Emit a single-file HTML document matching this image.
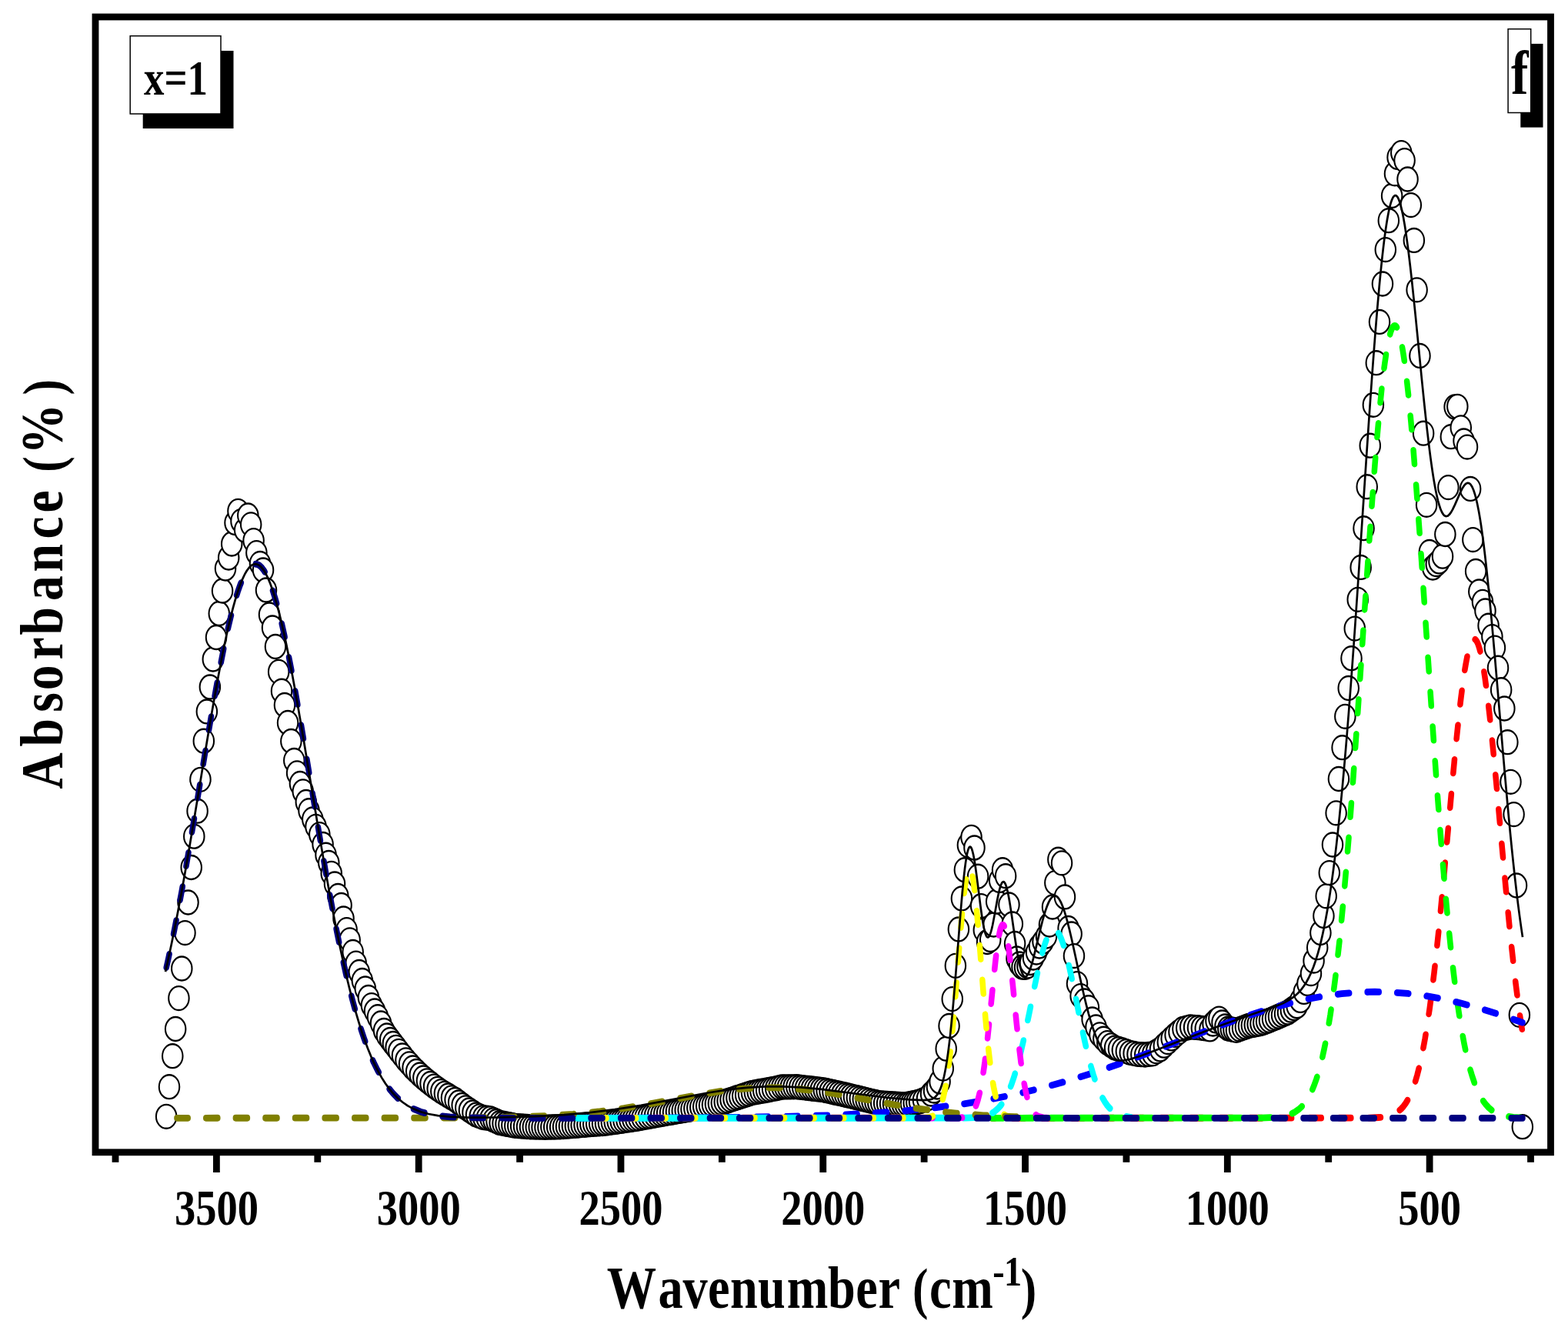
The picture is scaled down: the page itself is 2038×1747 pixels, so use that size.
<!DOCTYPE html>
<html><head><meta charset="utf-8"><style>
html,body{margin:0;padding:0;background:#fff;}
svg{display:block;}
text{font-family:"Liberation Serif","Times New Roman",serif;font-weight:bold;fill:#000;}
</style></head><body>
<svg width="2038" height="1747" viewBox="0 0 2038 1747">
<rect width="2038" height="1747" fill="#fff"/>
<g transform="scale(0.857 1)">
<g fill="#fff" stroke="#000" stroke-width="2.4"><circle cx="252.2" cy="1451.3" r="15.45"/><circle cx="256.7" cy="1412.7" r="15.45"/><circle cx="261.7" cy="1372.7" r="15.45"/><circle cx="266.2" cy="1337.5" r="15.45"/><circle cx="271.2" cy="1297.6" r="15.45"/><circle cx="275.7" cy="1259.0" r="15.45"/><circle cx="280.6" cy="1212.6" r="15.45"/><circle cx="285.3" cy="1173.0" r="15.45"/><circle cx="290.2" cy="1127.5" r="15.45"/><circle cx="294.4" cy="1087.2" r="15.45"/><circle cx="299.4" cy="1054.2" r="15.45"/><circle cx="303.9" cy="1013.3" r="15.45"/><circle cx="309.0" cy="963.2" r="15.45"/><circle cx="313.7" cy="924.9" r="15.45"/><circle cx="318.4" cy="893.0" r="15.45"/><circle cx="323.0" cy="857.0" r="15.45"/><circle cx="327.9" cy="828.5" r="15.45"/><circle cx="332.3" cy="797.5" r="15.45"/><circle cx="337.3" cy="768.0" r="15.45"/><circle cx="341.9" cy="739.0" r="15.45"/><circle cx="346.8" cy="725.0" r="15.45"/><circle cx="351.5" cy="707.0" r="15.45"/><circle cx="356.5" cy="679.5" r="15.45"/><circle cx="361.1" cy="664.3" r="15.45"/><circle cx="365.8" cy="677.4" r="15.45"/><circle cx="371.3" cy="688.9" r="15.45"/><circle cx="376.1" cy="670.0" r="15.45"/><circle cx="380.6" cy="681.8" r="15.45"/><circle cx="384.6" cy="702.6" r="15.45"/><circle cx="389.0" cy="718.6" r="15.45"/><circle cx="394.4" cy="732.4" r="15.45"/><circle cx="399.1" cy="741.0" r="15.45"/><circle cx="403.7" cy="767.0" r="15.45"/><circle cx="408.4" cy="799.0" r="15.45"/><circle cx="413.1" cy="816.0" r="15.45"/><circle cx="417.7" cy="840.5" r="15.45"/><circle cx="422.6" cy="873.3" r="15.45"/><circle cx="427.1" cy="898.2" r="15.45"/><circle cx="431.7" cy="916.5" r="15.45"/><circle cx="436.5" cy="939.5" r="15.45"/><circle cx="441.5" cy="963.5" r="15.45"/><circle cx="446.1" cy="988.4" r="15.45"/><circle cx="450.5" cy="1004.8" r="15.45"/><circle cx="455.0" cy="1018.5" r="15.45"/><circle cx="459.5" cy="1028.8" r="15.45"/><circle cx="464.2" cy="1042.5" r="15.45"/><circle cx="468.5" cy="1053.7" r="15.45"/><circle cx="474.1" cy="1064.9" r="15.45"/><circle cx="479.0" cy="1074.3" r="15.45"/><circle cx="484.6" cy="1084.6" r="15.45"/><circle cx="489.6" cy="1097.5" r="15.45"/><circle cx="494.2" cy="1111.2" r="15.45"/><circle cx="498.6" cy="1121.5" r="15.45"/><circle cx="502.6" cy="1135.3" r="15.45"/><circle cx="507.6" cy="1149.0" r="15.45"/><circle cx="512.6" cy="1164.5" r="15.45"/><circle cx="517.6" cy="1176.5" r="15.45"/><circle cx="521.0" cy="1194.0" r="15.45"/><circle cx="525.8" cy="1208.6" r="15.45"/><circle cx="530.5" cy="1221.8" r="15.45"/><circle cx="535.2" cy="1237.4" r="15.45"/><circle cx="539.9" cy="1252.1" r="15.45"/><circle cx="544.7" cy="1263.5" r="15.45"/><circle cx="549.4" cy="1274.5" r="15.45"/><circle cx="554.0" cy="1285.0" r="15.45"/><circle cx="558.8" cy="1296.5" r="15.45"/><circle cx="563.5" cy="1306.6" r="15.45"/><circle cx="568.3" cy="1314.0" r="15.45"/><circle cx="572.9" cy="1321.7" r="15.45"/><circle cx="577.6" cy="1330.0" r="15.45"/><circle cx="582.3" cy="1339.5" r="15.45"/><circle cx="586.9" cy="1346.0" r="15.45"/><circle cx="591.8" cy="1351.4" r="15.45"/><circle cx="596.1" cy="1356.4" r="15.45"/><circle cx="600.5" cy="1361.3" r="15.45"/><circle cx="604.8" cy="1366.3" r="15.45"/><circle cx="610.2" cy="1372.0" r="15.45"/><circle cx="615.5" cy="1377.8" r="15.45"/><circle cx="620.8" cy="1382.8" r="15.45"/><circle cx="626.1" cy="1387.9" r="15.45"/><circle cx="631.5" cy="1392.5" r="15.45"/><circle cx="636.9" cy="1397.0" r="15.45"/><circle cx="642.2" cy="1400.9" r="15.45"/><circle cx="647.5" cy="1404.8" r="15.45"/><circle cx="652.9" cy="1408.4" r="15.45"/><circle cx="658.2" cy="1412.1" r="15.45"/><circle cx="663.6" cy="1415.3" r="15.45"/><circle cx="669.0" cy="1418.6" r="15.45"/><circle cx="674.3" cy="1421.3" r="15.45"/><circle cx="679.6" cy="1424.0" r="15.45"/><circle cx="684.9" cy="1426.8" r="15.45"/><circle cx="690.3" cy="1429.5" r="15.45"/><circle cx="695.6" cy="1433.0" r="15.45"/><circle cx="700.9" cy="1436.5" r="15.45"/><circle cx="706.3" cy="1439.8" r="15.45"/><circle cx="711.7" cy="1443.0" r="15.45"/><circle cx="717.0" cy="1446.0" r="15.45"/><circle cx="722.3" cy="1449.0" r="15.45"/><circle cx="727.7" cy="1450.8" r="15.45"/><circle cx="733.0" cy="1452.6" r="15.45"/><circle cx="738.4" cy="1453.2" r="15.45"/><circle cx="743.8" cy="1453.8" r="15.45"/><circle cx="748.5" cy="1455.7" r="15.45"/><circle cx="753.2" cy="1457.5" r="15.45"/><circle cx="758.0" cy="1459.4" r="15.45"/><circle cx="762.6" cy="1460.2" r="15.45"/><circle cx="767.2" cy="1461.0" r="15.45"/><circle cx="771.8" cy="1461.7" r="15.45"/><circle cx="776.4" cy="1462.5" r="15.45"/><circle cx="781.0" cy="1463.3" r="15.45"/><circle cx="785.6" cy="1463.6" r="15.45"/><circle cx="790.1" cy="1463.9" r="15.45"/><circle cx="794.7" cy="1464.2" r="15.45"/><circle cx="799.3" cy="1464.5" r="15.45"/><circle cx="803.9" cy="1464.8" r="15.45"/><circle cx="808.4" cy="1464.9" r="15.45"/><circle cx="813.0" cy="1465.0" r="15.45"/><circle cx="817.6" cy="1465.1" r="15.45"/><circle cx="822.1" cy="1465.2" r="15.45"/><circle cx="826.7" cy="1465.3" r="15.45"/><circle cx="831.3" cy="1465.2" r="15.45"/><circle cx="835.9" cy="1465.1" r="15.45"/><circle cx="840.4" cy="1465.0" r="15.45"/><circle cx="845.0" cy="1464.9" r="15.45"/><circle cx="849.6" cy="1464.8" r="15.45"/><circle cx="854.2" cy="1464.5" r="15.45"/><circle cx="858.8" cy="1464.2" r="15.45"/><circle cx="863.4" cy="1463.9" r="15.45"/><circle cx="868.0" cy="1463.6" r="15.45"/><circle cx="872.6" cy="1463.3" r="15.45"/><circle cx="877.2" cy="1463.0" r="15.45"/><circle cx="881.7" cy="1462.6" r="15.45"/><circle cx="886.3" cy="1462.3" r="15.45"/><circle cx="890.9" cy="1461.9" r="15.45"/><circle cx="895.4" cy="1461.6" r="15.45"/><circle cx="900.0" cy="1461.3" r="15.45"/><circle cx="904.6" cy="1461.0" r="15.45"/><circle cx="909.2" cy="1460.8" r="15.45"/><circle cx="913.7" cy="1460.5" r="15.45"/><circle cx="918.3" cy="1460.2" r="15.45"/><circle cx="922.9" cy="1459.6" r="15.45"/><circle cx="927.5" cy="1459.1" r="15.45"/><circle cx="932.0" cy="1458.5" r="15.45"/><circle cx="936.6" cy="1458.0" r="15.45"/><circle cx="941.2" cy="1457.4" r="15.45"/><circle cx="945.8" cy="1456.8" r="15.45"/><circle cx="950.4" cy="1456.2" r="15.45"/><circle cx="955.0" cy="1455.7" r="15.45"/><circle cx="959.6" cy="1455.1" r="15.45"/><circle cx="964.2" cy="1454.5" r="15.45"/><circle cx="969.0" cy="1453.8" r="15.45"/><circle cx="973.8" cy="1453.0" r="15.45"/><circle cx="978.6" cy="1452.2" r="15.45"/><circle cx="983.4" cy="1451.5" r="15.45"/><circle cx="988.2" cy="1450.8" r="15.45"/><circle cx="993.1" cy="1450.0" r="15.45"/><circle cx="997.9" cy="1449.2" r="15.45"/><circle cx="1002.7" cy="1448.5" r="15.45"/><circle cx="1007.3" cy="1447.8" r="15.45"/><circle cx="1011.8" cy="1447.1" r="15.45"/><circle cx="1016.4" cy="1446.5" r="15.45"/><circle cx="1021.0" cy="1445.8" r="15.45"/><circle cx="1025.6" cy="1445.1" r="15.45"/><circle cx="1030.1" cy="1444.4" r="15.45"/><circle cx="1034.7" cy="1443.7" r="15.45"/><circle cx="1039.3" cy="1443.1" r="15.45"/><circle cx="1043.9" cy="1442.4" r="15.45"/><circle cx="1048.4" cy="1441.7" r="15.45"/><circle cx="1053.0" cy="1440.9" r="15.45"/><circle cx="1057.6" cy="1440.1" r="15.45"/><circle cx="1062.2" cy="1439.2" r="15.45"/><circle cx="1066.8" cy="1438.4" r="15.45"/><circle cx="1071.4" cy="1437.6" r="15.45"/><circle cx="1075.9" cy="1436.8" r="15.45"/><circle cx="1080.5" cy="1436.0" r="15.45"/><circle cx="1085.1" cy="1435.1" r="15.45"/><circle cx="1089.7" cy="1434.3" r="15.45"/><circle cx="1094.3" cy="1433.5" r="15.45"/><circle cx="1098.9" cy="1432.2" r="15.45"/><circle cx="1103.4" cy="1430.9" r="15.45"/><circle cx="1108.0" cy="1429.6" r="15.45"/><circle cx="1112.6" cy="1428.3" r="15.45"/><circle cx="1117.2" cy="1427.0" r="15.45"/><circle cx="1121.7" cy="1425.8" r="15.45"/><circle cx="1126.3" cy="1424.5" r="15.45"/><circle cx="1130.9" cy="1423.2" r="15.45"/><circle cx="1135.4" cy="1421.9" r="15.45"/><circle cx="1140.0" cy="1420.6" r="15.45"/><circle cx="1144.5" cy="1419.9" r="15.45"/><circle cx="1149.0" cy="1419.2" r="15.45"/><circle cx="1153.4" cy="1418.5" r="15.45"/><circle cx="1157.9" cy="1417.9" r="15.45"/><circle cx="1162.4" cy="1417.2" r="15.45"/><circle cx="1166.9" cy="1416.5" r="15.45"/><circle cx="1171.6" cy="1415.6" r="15.45"/><circle cx="1176.4" cy="1414.8" r="15.45"/><circle cx="1181.1" cy="1413.9" r="15.45"/><circle cx="1185.9" cy="1413.0" r="15.45"/><circle cx="1190.3" cy="1412.9" r="15.45"/><circle cx="1194.7" cy="1412.9" r="15.45"/><circle cx="1199.2" cy="1412.8" r="15.45"/><circle cx="1203.6" cy="1412.8" r="15.45"/><circle cx="1208.1" cy="1412.7" r="15.45"/><circle cx="1212.6" cy="1413.2" r="15.45"/><circle cx="1217.2" cy="1413.6" r="15.45"/><circle cx="1221.8" cy="1414.1" r="15.45"/><circle cx="1226.4" cy="1414.5" r="15.45"/><circle cx="1231.0" cy="1415.0" r="15.45"/><circle cx="1235.6" cy="1415.4" r="15.45"/><circle cx="1240.2" cy="1415.9" r="15.45"/><circle cx="1244.8" cy="1416.3" r="15.45"/><circle cx="1249.4" cy="1416.8" r="15.45"/><circle cx="1253.9" cy="1417.7" r="15.45"/><circle cx="1258.5" cy="1418.6" r="15.45"/><circle cx="1263.1" cy="1419.5" r="15.45"/><circle cx="1267.7" cy="1420.4" r="15.45"/><circle cx="1272.2" cy="1421.2" r="15.45"/><circle cx="1276.8" cy="1422.1" r="15.45"/><circle cx="1281.4" cy="1423.0" r="15.45"/><circle cx="1286.0" cy="1423.9" r="15.45"/><circle cx="1290.5" cy="1424.8" r="15.45"/><circle cx="1295.1" cy="1425.8" r="15.45"/><circle cx="1299.7" cy="1426.7" r="15.45"/><circle cx="1304.3" cy="1427.7" r="15.45"/><circle cx="1308.9" cy="1428.7" r="15.45"/><circle cx="1313.4" cy="1429.6" r="15.45"/><circle cx="1318.0" cy="1430.6" r="15.45"/><circle cx="1322.6" cy="1431.6" r="15.45"/><circle cx="1327.2" cy="1432.5" r="15.45"/><circle cx="1331.7" cy="1433.5" r="15.45"/><circle cx="1336.3" cy="1433.8" r="15.45"/><circle cx="1340.9" cy="1434.1" r="15.45"/><circle cx="1345.5" cy="1434.3" r="15.45"/><circle cx="1350.1" cy="1434.6" r="15.45"/><circle cx="1354.7" cy="1434.9" r="15.45"/><circle cx="1359.3" cy="1435.2" r="15.45"/><circle cx="1363.9" cy="1435.4" r="15.45"/><circle cx="1368.5" cy="1435.7" r="15.45"/><circle cx="1373.0" cy="1436.0" r="15.45"/><circle cx="1377.3" cy="1435.2" r="15.45"/><circle cx="1381.6" cy="1434.4" r="15.45"/><circle cx="1385.9" cy="1433.6" r="15.45"/><circle cx="1390.1" cy="1432.8" r="15.45"/><circle cx="1394.4" cy="1432.0" r="15.45"/><circle cx="1400.2" cy="1430.0" r="15.45"/><circle cx="1406.1" cy="1428.0" r="15.45"/><circle cx="1411.9" cy="1422.0" r="15.45"/><circle cx="1416.6" cy="1418.0" r="15.45"/><circle cx="1421.2" cy="1413.0" r="15.45"/><circle cx="1425.4" cy="1406.0" r="15.45"/><circle cx="1430.3" cy="1389.1" r="15.45"/><circle cx="1434.9" cy="1363.2" r="15.45"/><circle cx="1439.4" cy="1333.4" r="15.45"/><circle cx="1444.3" cy="1298.6" r="15.45"/><circle cx="1449.1" cy="1255.3" r="15.45"/><circle cx="1453.8" cy="1208.0" r="15.45"/><circle cx="1458.5" cy="1167.9" r="15.45"/><circle cx="1463.1" cy="1130.7" r="15.45"/><circle cx="1467.8" cy="1098.6" r="15.45"/><circle cx="1473.2" cy="1088.3" r="15.45"/><circle cx="1477.8" cy="1102.0" r="15.45"/><circle cx="1483.2" cy="1139.2" r="15.45"/><circle cx="1487.9" cy="1177.6" r="15.45"/><circle cx="1492.2" cy="1209.0" r="15.45"/><circle cx="1497.2" cy="1224.5" r="15.45"/><circle cx="1502.0" cy="1221.5" r="15.45"/><circle cx="1507.0" cy="1202.0" r="15.45"/><circle cx="1511.3" cy="1172.0" r="15.45"/><circle cx="1515.9" cy="1144.4" r="15.45"/><circle cx="1520.5" cy="1130.7" r="15.45"/><circle cx="1525.2" cy="1138.7" r="15.45"/><circle cx="1530.3" cy="1176.0" r="15.45"/><circle cx="1535.4" cy="1201.0" r="15.45"/><circle cx="1539.2" cy="1226.5" r="15.45"/><circle cx="1542.0" cy="1246.0" r="15.45"/><circle cx="1546.1" cy="1253.0" r="15.45"/><circle cx="1550.2" cy="1257.0" r="15.45"/><circle cx="1554.3" cy="1257.4" r="15.45"/><circle cx="1558.3" cy="1256.0" r="15.45"/><circle cx="1562.4" cy="1251.5" r="15.45"/><circle cx="1567.1" cy="1245.0" r="15.45"/><circle cx="1571.8" cy="1238.0" r="15.45"/><circle cx="1576.4" cy="1230.0" r="15.45"/><circle cx="1581.7" cy="1224.0" r="15.45"/><circle cx="1586.9" cy="1217.0" r="15.45"/><circle cx="1591.6" cy="1202.0" r="15.45"/><circle cx="1596.3" cy="1179.0" r="15.45"/><circle cx="1600.2" cy="1147.6" r="15.45"/><circle cx="1604.9" cy="1117.2" r="15.45"/><circle cx="1610.3" cy="1121.8" r="15.45"/><circle cx="1614.9" cy="1165.9" r="15.45"/><circle cx="1620.3" cy="1206.5" r="15.45"/><circle cx="1625.0" cy="1214.0" r="15.45"/><circle cx="1628.9" cy="1242.6" r="15.45"/><circle cx="1633.6" cy="1278.6" r="15.45"/><circle cx="1639.0" cy="1294.6" r="15.45"/><circle cx="1644.7" cy="1301.0" r="15.45"/><circle cx="1651.0" cy="1309.7" r="15.45"/><circle cx="1656.5" cy="1325.0" r="15.45"/><circle cx="1662.2" cy="1334.9" r="15.45"/><circle cx="1667.9" cy="1344.8" r="15.45"/><circle cx="1673.7" cy="1350.2" r="15.45"/><circle cx="1679.5" cy="1355.6" r="15.45"/><circle cx="1685.2" cy="1358.8" r="15.45"/><circle cx="1690.9" cy="1361.9" r="15.45"/><circle cx="1696.6" cy="1363.4" r="15.45"/><circle cx="1702.3" cy="1364.9" r="15.45"/><circle cx="1708.1" cy="1366.6" r="15.45"/><circle cx="1713.8" cy="1368.3" r="15.45"/><circle cx="1719.5" cy="1369.3" r="15.45"/><circle cx="1725.2" cy="1370.3" r="15.45"/><circle cx="1730.9" cy="1370.7" r="15.45"/><circle cx="1736.6" cy="1371.0" r="15.45"/><circle cx="1742.4" cy="1370.4" r="15.45"/><circle cx="1748.1" cy="1369.8" r="15.45"/><circle cx="1753.9" cy="1366.8" r="15.45"/><circle cx="1759.6" cy="1363.9" r="15.45"/><circle cx="1765.3" cy="1359.2" r="15.45"/><circle cx="1771.1" cy="1354.6" r="15.45"/><circle cx="1776.8" cy="1349.9" r="15.45"/><circle cx="1782.5" cy="1345.3" r="15.45"/><circle cx="1788.2" cy="1341.3" r="15.45"/><circle cx="1793.9" cy="1337.4" r="15.45"/><circle cx="1799.6" cy="1336.2" r="15.45"/><circle cx="1805.4" cy="1335.0" r="15.45"/><circle cx="1811.1" cy="1335.3" r="15.45"/><circle cx="1816.8" cy="1335.7" r="15.45"/><circle cx="1822.5" cy="1336.3" r="15.45"/><circle cx="1828.2" cy="1336.9" r="15.45"/><circle cx="1834.9" cy="1337.9" r="15.45"/><circle cx="1839.6" cy="1331.0" r="15.45"/><circle cx="1844.2" cy="1327.0" r="15.45"/><circle cx="1848.8" cy="1324.1" r="15.45"/><circle cx="1853.6" cy="1329.0" r="15.45"/><circle cx="1858.2" cy="1334.0" r="15.45"/><circle cx="1862.7" cy="1337.0" r="15.45"/><circle cx="1866.8" cy="1337.8" r="15.45"/><circle cx="1871.0" cy="1338.5" r="15.45"/><circle cx="1875.1" cy="1339.3" r="15.45"/><circle cx="1879.8" cy="1337.8" r="15.45"/><circle cx="1884.5" cy="1336.3" r="15.45"/><circle cx="1889.1" cy="1334.9" r="15.45"/><circle cx="1893.8" cy="1333.4" r="15.45"/><circle cx="1898.3" cy="1332.7" r="15.45"/><circle cx="1902.9" cy="1332.0" r="15.45"/><circle cx="1907.4" cy="1331.3" r="15.45"/><circle cx="1911.9" cy="1330.6" r="15.45"/><circle cx="1916.4" cy="1329.2" r="15.45"/><circle cx="1920.8" cy="1327.7" r="15.45"/><circle cx="1925.3" cy="1326.3" r="15.45"/><circle cx="1930.0" cy="1324.6" r="15.45"/><circle cx="1934.7" cy="1322.9" r="15.45"/><circle cx="1939.3" cy="1321.2" r="15.45"/><circle cx="1944.0" cy="1319.5" r="15.45"/><circle cx="1948.7" cy="1317.7" r="15.45"/><circle cx="1953.3" cy="1316.0" r="15.45"/><circle cx="1957.8" cy="1313.2" r="15.45"/><circle cx="1962.3" cy="1310.5" r="15.45"/><circle cx="1966.9" cy="1307.7" r="15.45"/><circle cx="1972.2" cy="1300.4" r="15.45"/><circle cx="1977.6" cy="1289.4" r="15.45"/><circle cx="1983.0" cy="1278.4" r="15.45"/><circle cx="1988.3" cy="1265.6" r="15.45"/><circle cx="1992.5" cy="1249.1" r="15.45"/><circle cx="1997.9" cy="1231.7" r="15.45"/><circle cx="2002.8" cy="1212.5" r="15.45"/><circle cx="2007.5" cy="1190.5" r="15.45"/><circle cx="2011.3" cy="1164.8" r="15.45"/><circle cx="2016.1" cy="1134.6" r="15.45"/><circle cx="2021.0" cy="1098.0" r="15.45"/><circle cx="2026.4" cy="1056.8" r="15.45"/><circle cx="2030.3" cy="1012.5" r="15.45"/><circle cx="2035.7" cy="971.7" r="15.45"/><circle cx="2040.1" cy="931.3" r="15.45"/><circle cx="2045.2" cy="894.4" r="15.45"/><circle cx="2049.6" cy="855.7" r="15.45"/><circle cx="2054.6" cy="817.1" r="15.45"/><circle cx="2059.2" cy="779.3" r="15.45"/><circle cx="2063.8" cy="737.4" r="15.45"/><circle cx="2068.3" cy="686.7" r="15.45"/><circle cx="2073.2" cy="632.7" r="15.45"/><circle cx="2077.9" cy="579.2" r="15.45"/><circle cx="2082.7" cy="526.3" r="15.45"/><circle cx="2087.3" cy="471.7" r="15.45"/><circle cx="2092.2" cy="418.4" r="15.45"/><circle cx="2096.8" cy="369.0" r="15.45"/><circle cx="2101.3" cy="324.6" r="15.45"/><circle cx="2106.0" cy="286.7" r="15.45"/><circle cx="2111.0" cy="254.5" r="15.45"/><circle cx="2115.5" cy="225.8" r="15.45"/><circle cx="2119.7" cy="204.4" r="15.45"/><circle cx="2125.2" cy="198.6" r="15.45"/><circle cx="2130.2" cy="208.6" r="15.45"/><circle cx="2134.8" cy="233.0" r="15.45"/><circle cx="2139.8" cy="266.6" r="15.45"/><circle cx="2144.5" cy="312.4" r="15.45"/><circle cx="2148.9" cy="376.8" r="15.45"/><circle cx="2153.4" cy="462.4" r="15.45"/><circle cx="2158.8" cy="563.2" r="15.45"/><circle cx="2163.5" cy="656.3" r="15.45"/><circle cx="2167.9" cy="717.4" r="15.45"/><circle cx="2173.0" cy="738.0" r="15.45"/><circle cx="2178.3" cy="733.6" r="15.45"/><circle cx="2182.6" cy="729.9" r="15.45"/><circle cx="2187.9" cy="723.2" r="15.45"/><circle cx="2191.8" cy="694.5" r="15.45"/><circle cx="2196.5" cy="633.6" r="15.45"/><circle cx="2200.5" cy="567.7" r="15.45"/><circle cx="2206.1" cy="529.0" r="15.45"/><circle cx="2210.4" cy="528.3" r="15.45"/><circle cx="2215.6" cy="555.8" r="15.45"/><circle cx="2220.0" cy="572.9" r="15.45"/><circle cx="2225.2" cy="581.1" r="15.45"/><circle cx="2230.0" cy="635.4" r="15.45"/><circle cx="2233.8" cy="701.6" r="15.45"/><circle cx="2238.2" cy="742.5" r="15.45"/><circle cx="2243.1" cy="768.9" r="15.45"/><circle cx="2248.5" cy="782.3" r="15.45"/><circle cx="2252.6" cy="794.0" r="15.45"/><circle cx="2257.4" cy="813.2" r="15.45"/><circle cx="2263.0" cy="827.6" r="15.45"/><circle cx="2267.1" cy="842.1" r="15.45"/><circle cx="2271.9" cy="868.2" r="15.45"/><circle cx="2276.7" cy="896.7" r="15.45"/><circle cx="2281.6" cy="921.0" r="15.45"/><circle cx="2286.3" cy="964.7" r="15.45"/><circle cx="2291.1" cy="1016.3" r="15.45"/><circle cx="2295.9" cy="1058.6" r="15.45"/><circle cx="2299.9" cy="1151.0" r="15.45"/><circle cx="2304.4" cy="1319.3" r="15.45"/><circle cx="2309.0" cy="1464.7" r="15.45"/></g>
<g fill="none" stroke-width="8.8" stroke-linecap="round" stroke-linejoin="round" stroke-dasharray="17.57 27.47"><path d="M1504.1,1453.3 2074.7,1453.2 2092.2,1452.5 2102.7,1451.2 2107.4,1450.2" stroke="#FF0000" stroke-dashoffset="13.34"/><path d="M2107.4,1450.2 2114.4,1447.9 2120.2,1444.9 2124.9,1441.5 2128.4,1438.2 2131.9,1434.1 2135.4,1429.2 2138.9,1423.2 2142.4,1415.9 2144.7,1410.4 2147.1,1404.2 2149.4,1397.3 2151.7,1389.6 2154.1,1381.2 2156.4,1371.9 2158.7,1361.7 2161.1,1350.6 2163.4,1338.6 2165.7,1325.7 2168.1,1311.7 2170.4,1296.8 2172.7,1281.0 2175.1,1264.2 2177.4,1246.4 2179.7,1227.9 2182.1,1208.4 2184.4,1188.3 2187.9,1156.9 2191.4,1124.3 2201.9,1024.4 2205.4,992.1 2207.7,971.3 2210.1,951.3 2212.4,932.4 2213.6,923.3 2214.7,914.6 2215.9,906.2 2217.1,898.1 2218.2,890.5 2219.4,883.2 2220.6,876.3 2221.7,869.9 2222.9,863.9 2224.1,858.4 2225.2,853.3 2226.4,848.7 2227.6,844.7 2228.7,841.1 2229.9,838.0 2231.1,835.5 2232.2,833.5 2233.4,832.1 2234.6,831.2 2235.7,830.8 2236.9,831.0 2238.1,831.7 2239.2,833.0 2240.4,834.8 2241.6,837.1 2242.7,840.0 2243.9,843.4 2245.1,847.3 2246.2,851.7 2247.4,856.6 2248.6,861.9 2249.7,867.8 2250.9,874.1 2252.1,880.8 2253.2,887.9 2254.4,895.4 2255.6,903.4 2256.7,911.6 2257.9,920.3 2259.1,929.2 2261.4,948.0 2263.7,967.8 2266.1,988.4 2269.6,1020.6 2274.2,1064.9 2280.1,1120.5 2283.6,1153.2 2287.1,1184.7 2289.4,1205.0 2291.7,1224.6 2294.1,1243.3 2296.4,1261.2 2298.7,1278.1 2301.1,1294.2 2303.4,1309.2 2305.7,1323.3 2308.1,1336.5 2309.2,1342.5" stroke="#FF0000" stroke-dashoffset="27.89"/><path d="M1504.1,1453.3 1912.5,1453.1 1933.5,1452.4 1940.4,1451.8" stroke="#00FF00" stroke-dashoffset="0.27"/><path d="M1940.4,1451.8 1950.9,1450.0 1957.9,1448.0 1963.8,1445.6 1969.6,1442.1 1974.3,1438.4 1979.0,1433.7 1982.5,1429.4 1986.0,1424.2 1989.5,1418.1 1993.0,1410.9 1996.5,1402.6 1998.8,1396.3 2001.1,1389.3 2003.5,1381.7 2005.8,1373.4 2008.1,1364.3 2010.5,1354.4 2012.8,1343.6 2015.1,1332.0 2017.5,1319.5 2019.8,1305.9 2022.1,1291.4 2024.5,1275.9 2026.8,1259.4 2029.1,1241.7 2031.5,1223.1 2033.8,1203.3 2036.1,1182.5 2038.5,1160.7 2040.8,1137.8 2043.1,1113.9 2045.5,1089.1 2047.8,1063.3 2050.1,1036.7 2052.5,1009.3 2054.8,981.2 2058.3,937.9 2061.8,893.6 2072.3,758.7 2075.8,714.6 2078.1,685.9 2080.5,657.9 2082.8,630.8 2085.1,604.8 2086.3,592.2 2087.5,579.9 2088.6,568.0 2089.8,556.5 2091.0,545.3 2092.1,534.5 2093.3,524.1 2094.5,514.2 2095.6,504.7 2096.8,495.6 2098.0,487.1 2099.1,479.0 2100.3,471.4 2101.5,464.4 2102.6,457.8 2103.8,451.8 2105.0,446.4 2106.1,441.5 2107.3,437.2 2108.5,433.4 2109.6,430.3 2110.8,427.7 2112.0,425.7 2113.1,424.3 2114.3,423.5 2115.5,423.3 2116.6,423.7 2117.8,424.7 2119.0,426.3 2120.1,428.5 2121.3,431.2 2122.5,434.6 2123.6,438.5 2124.8,443.0 2126.0,448.1 2127.1,453.7 2128.3,459.9 2129.5,466.6 2130.6,473.8 2131.8,481.6 2133.0,489.8 2134.1,498.5 2135.3,507.7 2136.5,517.4 2137.6,527.4 2138.8,538.0 2140.0,548.9 2141.1,560.2 2142.3,571.9 2143.5,583.9 2144.6,596.2 2147.0,621.9 2149.3,648.6 2151.6,676.3 2154.0,704.8 2157.5,748.7 2162.1,808.4 2169.2,898.5 2172.7,942.7 2176.2,985.8 2178.5,1013.8 2180.8,1041.1 2183.2,1067.5 2185.5,1093.1 2187.8,1117.8 2190.2,1141.6 2192.5,1164.3 2194.8,1186.0 2197.2,1206.6 2199.5,1226.2 2201.8,1244.7 2204.2,1262.1 2206.5,1278.5 2208.8,1293.8 2211.2,1308.2 2213.5,1321.5 2215.8,1334.0 2218.2,1345.4 2220.5,1356.1 2222.8,1365.8 2225.2,1374.8 2227.5,1383.0 2229.8,1390.5 2232.2,1397.3 2235.7,1406.4 2239.2,1414.2 2242.7,1420.9 2246.2,1426.6 2249.7,1431.4 2253.2,1435.4 2257.8,1439.8 2262.5,1443.2 2268.3,1446.3 2275.3,1448.9 2283.5,1450.8 2295.2,1452.3 2309.2,1453.0" stroke="#00FF00" stroke-dashoffset="25.26"/><path d="M875.1,1453.3 1084.0,1452.7 1189.0,1451.5 1263.7,1449.6 1323.2,1447.0 1374.6,1443.7 1420.1,1439.7 1462.1,1434.8 1501.8,1429.1 1540.3,1422.4 1577.6,1414.8 1616.1,1405.7 1655.8,1395.2 1698.9,1382.5 1752.6,1365.3 1848.3,1333.8 1890.3,1320.9 1924.2,1311.6 1954.5,1304.4 1982.5,1298.8 2009.3,1294.5 2035.0,1291.6 2060.7,1289.8 2085.2,1289.2 2109.7,1289.7 2135.4,1291.4 2161.0,1294.3 2187.9,1298.5 2215.9,1304.0 2246.2,1311.2 2280.0,1320.4 2309.2,1329.2" stroke="#0000FF" stroke-dashoffset="42.94"/><path d="M875.1,1453.3 1464.4,1453.2 1481.9,1452.4 1491.2,1451.2 1498.2,1449.5 1504.1,1447.2 1508.8,1444.6 1513.4,1441.1 1516.9,1437.8 1520.4,1433.8 1523.9,1428.9 1527.4,1423.2 1530.9,1416.5 1534.4,1408.7 1537.9,1399.9 1541.4,1389.9 1544.9,1378.9 1548.4,1366.8 1551.9,1353.8 1555.4,1340.0 1561.3,1315.7 1569.4,1281.0 1572.9,1266.7 1576.4,1253.4 1578.8,1245.1 1581.1,1237.5 1583.4,1230.5 1585.8,1224.4 1588.1,1219.2 1590.4,1215.0 1592.8,1211.7 1595.1,1209.6 1597.4,1208.5 1599.8,1208.5 1602.1,1209.6 1604.4,1211.8 1606.8,1215.0 1609.1,1219.3 1611.4,1224.5 1613.8,1230.6 1616.1,1237.5 1618.4,1245.2 1621.9,1257.8 1625.4,1271.5 1630.1,1290.9 1639.4,1330.5 1644.1,1349.4 1647.6,1362.7 1651.1,1375.1 1654.6,1386.4 1658.1,1396.7 1661.6,1405.9 1665.1,1414.0 1668.6,1421.1 1672.1,1427.1 1675.6,1432.3 1679.1,1436.6 1682.6,1440.1 1687.3,1443.8 1691.9,1446.7 1697.8,1449.1 1704.8,1451.0 1714.1,1452.3 1715.3,1452.4" stroke="#00FFFF" stroke-dashoffset="44.49"/><path d="M875.1,1453.3 1453.9,1453.1 1462.1,1452.5 1466.7,1451.3 1470.2,1449.7 1472.6,1448.0 1474.9,1445.7 1477.2,1442.6 1479.6,1438.4 1480.7,1435.9 1481.9,1433.0 1483.1,1429.8 1484.2,1426.1 1485.4,1422.1 1486.6,1417.6 1487.7,1412.6 1488.9,1407.2 1490.1,1401.2 1491.2,1394.8 1492.4,1387.8 1493.6,1380.4 1494.7,1372.5 1495.9,1364.1 1497.1,1355.3 1498.2,1346.1 1500.6,1326.7 1506.4,1276.2 1507.6,1266.4 1508.8,1256.9 1509.9,1247.9 1511.1,1239.5 1512.3,1231.7 1513.4,1224.6 1514.6,1218.4 1515.8,1213.1 1516.9,1208.8 1518.1,1205.5 1519.3,1203.3 1520.4,1202.2 1521.6,1202.3 1522.8,1203.4 1523.9,1205.7 1525.1,1209.0 1526.3,1213.4 1527.4,1218.8 1528.6,1225.0 1529.8,1232.1 1530.9,1240.0 1532.1,1248.5 1533.3,1257.5 1534.4,1266.9 1536.8,1286.8 1541.4,1327.3 1543.8,1346.7 1544.9,1355.8 1546.1,1364.6 1547.3,1373.0 1548.4,1380.9 1549.6,1388.3 1550.8,1395.2 1551.9,1401.6 1553.1,1407.5 1554.3,1412.9 1555.4,1417.9 1556.6,1422.3 1557.8,1426.4 1558.9,1430.0 1560.1,1433.2 1561.3,1436.0 1562.4,1438.6 1564.8,1442.7 1567.1,1445.8 1569.4,1448.1 1572.9,1450.4 1576.4,1451.7 1582.3,1452.8 1586.9,1453.1" stroke="#FF00FF" stroke-dashoffset="18.94"/><path d="M875.1,1453.3 1400.2,1453.2 1408.4,1452.5 1413.1,1451.4 1416.6,1449.8 1418.9,1448.1 1421.2,1445.8 1423.6,1442.7 1425.9,1438.6 1427.1,1436.0 1428.2,1433.1 1429.4,1429.8 1430.6,1426.1 1431.7,1421.9 1432.9,1417.2 1434.1,1412.0 1435.2,1406.3 1436.4,1400.0 1437.6,1393.1 1438.7,1385.6 1439.9,1377.4 1441.1,1368.7 1442.2,1359.4 1443.4,1349.5 1444.6,1339.0 1445.7,1328.0 1446.9,1316.5 1448.1,1304.6 1450.4,1279.8 1455.1,1228.8 1456.2,1216.5 1457.4,1204.4 1458.6,1192.9 1459.7,1182.0 1460.9,1171.9 1462.1,1162.6 1463.2,1154.2 1464.4,1147.0 1465.6,1140.8 1466.7,1136.0 1467.9,1132.4 1469.1,1130.1 1470.2,1129.2 1471.4,1129.6 1472.6,1131.5 1473.7,1134.7 1474.9,1139.1 1476.1,1144.9 1477.2,1151.8 1478.4,1159.8 1479.6,1168.8 1480.7,1178.7 1481.9,1189.4 1483.1,1200.7 1484.2,1212.6 1486.6,1237.4 1491.2,1288.3 1492.4,1300.7 1493.6,1312.7 1494.7,1324.3 1495.9,1335.5 1497.1,1346.2 1498.2,1356.3 1499.4,1365.8 1500.6,1374.7 1501.8,1383.0 1502.9,1390.7 1504.1,1397.8 1505.3,1404.3 1506.4,1410.2 1507.6,1415.6 1508.8,1420.4 1509.9,1424.8 1511.1,1428.6 1512.3,1432.1 1513.4,1435.1 1514.6,1437.8 1515.8,1440.1 1518.1,1443.9 1520.4,1446.7 1522.8,1448.8 1526.3,1450.8 1528.6,1451.6" stroke="#FFFF00" stroke-dashoffset="18.24"/><path d="M268.3,1453.3 694.2,1453.1 773.5,1452.2 826.0,1450.6 869.2,1448.3 907.7,1445.0 946.2,1440.6 990.5,1434.1 1067.6,1421.9 1100.2,1417.6 1128.2,1415.1 1153.9,1413.9 1178.4,1413.8 1204.1,1414.9 1232.1,1417.4 1264.8,1421.5 1324.3,1430.9 1374.4,1438.7 1413.0,1443.5 1450.3,1447.1 1491.1,1449.8 1539.0,1451.7 1551.9,1452.0" stroke="#808000" stroke-dashoffset="0.91"/><path d="M250.9,1263.1 255.5,1245.3 260.2,1226.5 264.9,1206.8 269.5,1186.3 275.4,1159.4 281.2,1131.4 287.0,1102.5 295.2,1060.8 313.9,963.7 320.9,928.2 326.7,899.6 331.4,877.7 336.1,856.7 339.6,841.7 343.1,827.5 346.6,814.0 350.1,801.4 353.6,789.7 357.1,778.9 360.6,769.2 364.1,760.6 367.6,753.1 371.1,746.7 371.9,745.4" stroke="#000080" stroke-dashoffset="39.17"/><path d="M371.9,745.4 375.4,740.5 378.9,736.8 382.4,734.4 385.9,733.2 389.4,733.3 392.9,734.6 396.4,737.2 399.9,741.1 403.4,746.1 406.9,752.4 410.4,759.8 413.9,768.3 417.4,777.9 420.9,788.5 424.4,800.1 427.9,812.7 431.4,826.1 434.9,840.2 438.4,855.2 443.1,876.0 447.7,897.9 453.6,926.5 460.6,961.9 481.6,1071.0 488.6,1106.6 494.4,1135.4 500.2,1163.2 506.1,1189.9 510.7,1210.3 515.4,1229.8 520.1,1248.4 524.7,1266.1 529.4,1282.7 534.1,1298.4 538.7,1313.0 543.4,1326.7 548.1,1339.4 552.7,1351.1 557.4,1361.9 562.1,1371.8 566.7,1380.9 572.6,1391.1 578.4,1400.1 584.2,1408.1 590.1,1415.0 595.9,1421.0 602.9,1427.2 609.9,1432.3 618.1,1437.2 627.4,1441.5 637.9,1445.2 649.6,1448.0 663.6,1450.2 682.3,1451.9 710.3,1452.9 780.3,1453.3 1107.5,1453.3" stroke="#000080" stroke-dashoffset="24.00"/><path d="M1107.5,1453.3 2309.2,1453.3" stroke="#000080" stroke-dashoffset="31.62"/></g>
</g>
<path d="M215.0,1263.1 219.0,1245.3 223.0,1226.5 227.0,1206.8 231.0,1186.3 236.0,1159.4 241.0,1131.4 246.0,1102.5 253.0,1060.8 269.0,963.7 275.0,928.2 280.0,899.6 284.0,877.7 288.0,856.7 291.0,841.7 294.0,827.5 297.0,814.0 300.0,801.4 303.0,789.7 306.0,778.9 309.0,769.2 312.0,760.6 315.0,753.1 318.0,746.7 321.0,741.5 324.0,737.6 327.0,734.8 330.0,733.4 333.0,733.2 336.0,734.2 339.0,736.5 342.0,740.1 345.0,744.8 348.0,750.8 351.0,757.9 354.0,766.2 357.0,775.6 360.0,786.0 363.0,797.4 366.0,809.7 369.0,822.9 372.0,836.9 375.0,851.6 379.0,872.3 383.0,894.1 388.0,922.4 394.0,957.8 404.0,1018.3 413.0,1072.8 419.0,1108.4 424.0,1137.1 429.0,1164.9 434.0,1191.5 438.0,1211.8 442.0,1231.3 446.0,1249.8 450.0,1267.4 454.0,1284.0 458.0,1299.5 462.0,1314.1 466.0,1327.7 470.0,1340.3 474.0,1352.0 478.0,1362.7 482.0,1372.6 486.0,1381.6 491.0,1391.7 496.0,1400.6 501.0,1408.5 506.0,1415.4 511.0,1421.4 517.0,1427.5 523.0,1432.5 530.0,1437.4 538.0,1441.6 547.0,1445.2 557.0,1448.0 569.0,1450.1 585.0,1451.7 608.0,1452.6 648.0,1452.5 695.0,1451.2 733.0,1449.1 767.0,1446.2 799.0,1442.2 833.0,1436.8 920.0,1420.5 948.0,1416.2 972.0,1413.7 995.0,1412.4 1017.0,1412.3 1041.0,1413.4 1068.0,1415.9 1115.0,1422.0 1155.0,1427.0 1183.0,1429.4 1200.0,1430.2 1207.0,1429.7 1211.0,1428.7 1214.0,1427.1 1216.0,1425.5 1218.0,1423.2 1220.0,1420.1 1222.0,1415.9 1223.0,1413.3 1224.0,1410.4 1225.0,1407.1 1226.0,1403.4 1227.0,1399.2 1228.0,1394.5 1229.0,1389.3 1230.0,1383.5 1231.0,1377.2 1232.0,1370.2 1233.0,1362.7 1234.0,1354.6 1235.0,1345.8 1236.0,1336.4 1237.0,1326.5 1238.0,1315.9 1239.0,1304.9 1240.0,1293.4 1241.0,1281.4 1243.0,1256.5 1247.0,1205.2 1248.0,1192.7 1249.0,1180.5 1250.0,1168.9 1251.0,1157.8 1252.0,1147.4 1253.0,1137.9 1254.0,1129.2 1255.0,1121.6 1256.0,1115.1 1257.0,1109.8 1258.0,1105.6 1259.0,1102.7 1260.0,1101.0 1261.0,1100.6 1262.0,1101.4 1263.0,1103.4 1264.0,1106.5 1265.0,1110.6 1266.0,1115.7 1267.0,1121.6 1268.0,1128.2 1269.0,1135.4 1271.0,1150.9 1274.0,1174.7 1275.0,1182.3 1276.0,1189.3 1277.0,1195.9 1278.0,1201.7 1279.0,1206.8 1280.0,1211.0 1281.0,1214.3 1282.0,1216.7 1283.0,1218.1 1284.0,1218.5 1285.0,1218.0 1286.0,1216.5 1287.0,1214.2 1288.0,1211.1 1289.0,1207.4 1290.0,1203.0 1291.0,1198.1 1293.0,1187.4 1296.0,1170.8 1297.0,1165.7 1298.0,1161.0 1299.0,1156.7 1300.0,1153.1 1301.0,1150.2 1302.0,1148.0 1303.0,1146.6 1304.0,1146.1 1305.0,1146.4 1306.0,1147.6 1307.0,1149.6 1308.0,1152.5 1309.0,1156.1 1310.0,1160.5 1311.0,1165.5 1312.0,1171.1 1313.0,1177.1 1315.0,1190.3 1319.0,1218.1 1321.0,1231.2 1322.0,1237.3 1323.0,1242.9 1324.0,1248.1 1325.0,1252.8 1326.0,1257.0 1327.0,1260.5 1328.0,1263.5 1329.0,1265.9 1330.0,1267.7 1331.0,1268.8 1332.0,1269.4 1333.0,1269.5 1334.0,1269.0 1335.0,1268.0 1336.0,1266.5 1337.0,1264.6 1338.0,1262.3 1339.0,1259.6 1341.0,1253.3 1343.0,1246.1 1346.0,1233.9 1352.0,1208.6 1355.0,1196.8 1357.0,1189.6 1359.0,1183.2 1361.0,1177.6 1363.0,1172.9 1365.0,1169.1 1367.0,1166.5 1369.0,1164.9 1371.0,1164.4 1373.0,1164.9 1375.0,1166.6 1377.0,1169.3 1379.0,1173.0 1381.0,1177.7 1383.0,1183.2 1385.0,1189.6 1387.0,1196.7 1390.0,1208.4 1393.0,1221.3 1397.0,1239.5 1405.0,1276.6 1409.0,1294.3 1412.0,1306.6 1415.0,1318.1 1418.0,1328.5 1421.0,1337.8 1424.0,1346.0 1427.0,1353.2 1430.0,1359.2 1433.0,1364.2 1436.0,1368.3 1439.0,1371.6 1442.0,1374.1 1446.0,1376.5 1450.0,1377.9 1455.0,1378.6 1461.0,1378.3 1469.0,1376.7 1482.0,1372.7 1517.0,1359.5 1585.0,1333.4 1622.0,1320.2 1658.0,1308.0 1669.0,1303.4 1676.0,1299.6 1682.0,1295.4 1687.0,1291.0 1691.0,1286.6 1695.0,1281.3 1698.0,1276.5 1701.0,1271.0 1704.0,1264.6 1707.0,1257.2 1710.0,1248.7 1713.0,1238.9 1715.0,1231.6 1717.0,1223.6 1719.0,1214.9 1721.0,1205.5 1723.0,1195.3 1725.0,1184.2 1727.0,1172.2 1729.0,1159.4 1731.0,1145.5 1733.0,1130.8 1735.0,1114.9 1737.0,1098.1 1739.0,1080.2 1741.0,1061.3 1743.0,1041.3 1745.0,1020.3 1747.0,998.2 1749.0,975.1 1751.0,951.0 1753.0,926.0 1755.0,900.0 1757.0,873.2 1759.0,845.7 1761.0,817.4 1764.0,774.0 1767.0,729.5 1776.0,594.1 1779.0,549.9 1781.0,521.1 1783.0,493.0 1785.0,465.9 1787.0,439.8 1788.0,427.2 1789.0,414.9 1790.0,402.9 1791.0,391.3 1792.0,380.1 1793.0,369.2 1794.0,358.8 1795.0,348.8 1796.0,339.2 1797.0,330.1 1798.0,321.4 1799.0,313.2 1800.0,305.5 1801.0,298.4 1802.0,291.7 1803.0,285.5 1804.0,279.9 1805.0,274.8 1806.0,270.3 1807.0,266.3 1808.0,262.9 1809.0,260.0 1810.0,257.7 1811.0,255.9 1812.0,254.8 1813.0,254.1 1814.0,254.1 1815.0,254.5 1816.0,255.6 1817.0,257.1 1818.0,259.3 1819.0,261.9 1820.0,265.0 1821.0,268.7 1822.0,272.9 1823.0,277.5 1824.0,282.6 1825.0,288.2 1826.0,294.1 1827.0,300.6 1828.0,307.4 1829.0,314.6 1830.0,322.1 1831.0,330.0 1833.0,346.7 1835.0,364.5 1837.0,383.3 1840.0,412.6 1848.0,493.6 1851.0,523.0 1853.0,541.8 1855.0,559.7 1857.0,576.7 1858.0,584.7 1859.0,592.5 1860.0,599.9 1861.0,607.0 1862.0,613.8 1863.0,620.2 1864.0,626.2 1865.0,631.9 1866.0,637.2 1867.0,642.1 1868.0,646.6 1869.0,650.8 1870.0,654.5 1871.0,657.8 1872.0,660.8 1873.0,663.3 1874.0,665.5 1875.0,667.3 1876.0,668.8 1877.0,669.9 1878.0,670.6 1879.0,671.0 1880.0,671.1 1882.0,670.4 1884.0,668.6 1886.0,665.9 1888.0,662.4 1891.0,656.1 1898.0,640.1 1901.0,634.2 1903.0,631.2 1905.0,629.0 1907.0,627.9 1908.0,627.8 1909.0,628.0 1910.0,628.5 1911.0,629.3 1912.0,630.6 1913.0,632.2 1914.0,634.2 1915.0,636.5 1916.0,639.3 1917.0,642.5 1918.0,646.1 1919.0,650.1 1920.0,654.5 1921.0,659.4 1922.0,664.6 1923.0,670.3 1924.0,676.3 1925.0,682.8 1926.0,689.7 1927.0,696.9 1928.0,704.5 1929.0,712.5 1930.0,720.9 1931.0,729.6 1932.0,738.6 1934.0,757.6 1936.0,777.7 1938.0,798.7 1940.0,820.6 1943.0,854.7 1947.0,901.6 1953.0,972.5 1956.0,1007.2 1959.0,1040.8 1961.0,1062.5 1963.0,1083.4 1965.0,1103.5 1967.0,1122.7 1969.0,1141.0 1971.0,1158.4 1973.0,1174.8 1975.0,1190.2 1977.0,1204.6 1979.0,1218.1" fill="none" stroke="#000" stroke-width="2.7" stroke-linejoin="round"/>
<rect x="124.0" y="22.0" width="1891.5" height="1475.8" fill="none" stroke="#000" stroke-width="8.8"/>
<g fill="#000"><rect x="1985.10" y="1499" width="8.8" height="11.8"/><rect x="1853.71" y="1499" width="8.8" height="25.0"/><rect x="1722.32" y="1499" width="8.8" height="11.8"/><rect x="1590.92" y="1499" width="8.8" height="25.0"/><rect x="1459.53" y="1499" width="8.8" height="11.8"/><rect x="1328.14" y="1499" width="8.8" height="25.0"/><rect x="1196.75" y="1499" width="8.8" height="11.8"/><rect x="1065.36" y="1499" width="8.8" height="25.0"/><rect x="933.96" y="1499" width="8.8" height="11.8"/><rect x="802.57" y="1499" width="8.8" height="25.0"/><rect x="671.18" y="1499" width="8.8" height="11.8"/><rect x="539.78" y="1499" width="8.8" height="25.0"/><rect x="408.39" y="1499" width="8.8" height="11.8"/><rect x="277.00" y="1499" width="8.8" height="25.0"/><rect x="145.61" y="1499" width="8.8" height="11.8"/></g>
<g font-size="64.5"><text transform="translate(281.4 1592.4) scale(0.845 1)" text-anchor="middle">3500</text><text transform="translate(544.2 1592.4) scale(0.845 1)" text-anchor="middle">3000</text><text transform="translate(807.0 1592.4) scale(0.845 1)" text-anchor="middle">2500</text><text transform="translate(1069.8 1592.4) scale(0.845 1)" text-anchor="middle">2000</text><text transform="translate(1332.5 1592.4) scale(0.845 1)" text-anchor="middle">1500</text><text transform="translate(1595.3 1592.4) scale(0.845 1)" text-anchor="middle">1000</text><text transform="translate(1858.1 1592.4) scale(0.845 1)" text-anchor="middle">500</text></g>
<text transform="translate(780.0 1700.4) scale(0.83 1)" font-size="77.5"><tspan x="10.5 91.1 129.5 168.6 203.7 247.1 292.4 356.7 400.4 435.5">Wavenumber </tspan><tspan x="489.3" font-size="74">(</tspan><tspan x="515.7 550.8">cm</tspan><tspan x="614.7 632.6" y="-29.6" font-size="55.7">-1</tspan><tspan x="658.7" y="0" font-size="74">)</tspan></text>
<text transform="translate(80.7 1030.0) rotate(-90) scale(0.83 1)" font-size="79"><tspan x="5.1 71.8 125.6 160.1 207.9 246.5 300.1 345.1 397.1 438.0 473.1">Absorbance </tspan><tspan x="501.6" font-size="74">(</tspan><tspan x="529.6">%</tspan><tspan x="622.3" font-size="74">)</tspan></text>
<rect x="185.7" y="66" width="117.8" height="101" fill="#000"/>
<rect x="169.2" y="46.7" width="117.8" height="101.3" fill="#fff" stroke="#000" stroke-width="1.5"/>
<text transform="translate(187 122.7) scale(0.826 1)" font-size="64">x=1</text>
<rect x="1976.3" y="56.9" width="29.2" height="108.7" fill="#000"/>
<rect x="1960.1" y="37.7" width="29.6" height="108.8" fill="#fff" stroke="#000" stroke-width="1.5"/>
<text transform="translate(1964 121.9) scale(0.85 1)" font-size="79.5">f</text>
</svg>
</body></html>
